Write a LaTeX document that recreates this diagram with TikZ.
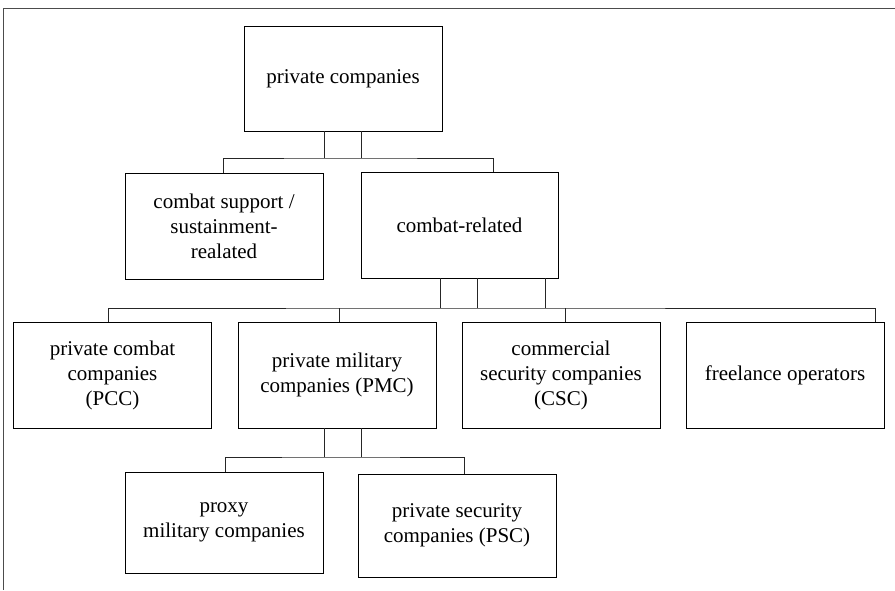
\documentclass[tikz,border=0pt]{standalone}
\usepackage{fontspec}
\setmainfont{Liberation Serif}
\usepackage{tikz}
\usetikzlibrary{positioning}

\begin{document}
\begin{tikzpicture}[x=1pt,y=-1pt]
    \tikzstyle{orgbox}=[draw=black, line width=0.8pt, inner sep=2pt, align=center,
        minimum width=198pt, minimum height=106pt,
        font=\fontsize{21}{25}\selectfont]
    \tikzstyle{link}=[draw=black!85, line width=0.8pt]
    \useasboundingbox (0,0) rectangle (895,590);
    % frame
    \draw [black!70, line width=0.8pt] (895,8) -- (3,8) -- (3,590);
    % boxes
    \node [orgbox, minimum height=105pt] (pc) at (343,78.5) {private companies};
    \node [orgbox] (sup) at (224,226) {combat support /\\sustainment-\\realated};
    \node [orgbox, minimum width=197pt] (cr) at (459.5,225) {combat-related};
    \node [orgbox] (pcc) at (112.5,375) {private combat\\companies\\(PCC)};
    \node [orgbox] (pmc) at (337,375) {private military\\companies (PMC)};
    \node [orgbox] (csc) at (561,375) {commercial\\security companies\\(CSC)};
    \node [orgbox] (fl) at (785,375) {freelance operators};
    \node [orgbox, minimum height=101pt] (prx) at (224,522.5) {proxy\\military companies};
    \node [orgbox, minimum height=103pt] (psc) at (457,525.5) {private security\\companies (PSC)};
    % bus lines
    \coordinate (bus1) at (343,158);
    \coordinate (bus2) at (459.5,308);
    \coordinate (bus3) at (337,457);
    % level 1 -> 2
    \draw [link] ([xshift=-19pt]pc.south) -- ([xshift=-19pt]bus1);
    \draw [link] ([xshift=18pt]pc.south) -- ([xshift=18pt]bus1);
    \draw [link] ([xshift=-1pt]sup.north) |- (bus1) -| ([xshift=33.5pt]cr.north);
    % level 2 -> 3
    \draw [link] ([xshift=-19.5pt]cr.south) -- ([xshift=-19.5pt]bus2);
    \draw [link] ([xshift=17.5pt]cr.south) -- ([xshift=17.5pt]bus2);
    \draw [link] ([xshift=85.5pt]cr.south) -- ([xshift=85.5pt]bus2);
    \draw [link] ([xshift=-4.5pt]pcc.north) |- (bus2) -| ([xshift=90pt]fl.north);
    \draw [link] ([xshift=2pt]pmc.north) -- ([xshift=2pt]pmc.north |- bus2);
    \draw [link] ([xshift=4pt]csc.north) -- ([xshift=4pt]csc.north |- bus2);
    % level 3 -> 4
    \draw [link] ([xshift=-13pt]pmc.south) -- ([xshift=-13pt]bus3);
    \draw [link] ([xshift=24pt]pmc.south) -- ([xshift=24pt]bus3);
    \draw [link] ([xshift=1pt]prx.north) |- (bus3) -| ([xshift=7pt]psc.north);
\end{tikzpicture}
\end{document}
